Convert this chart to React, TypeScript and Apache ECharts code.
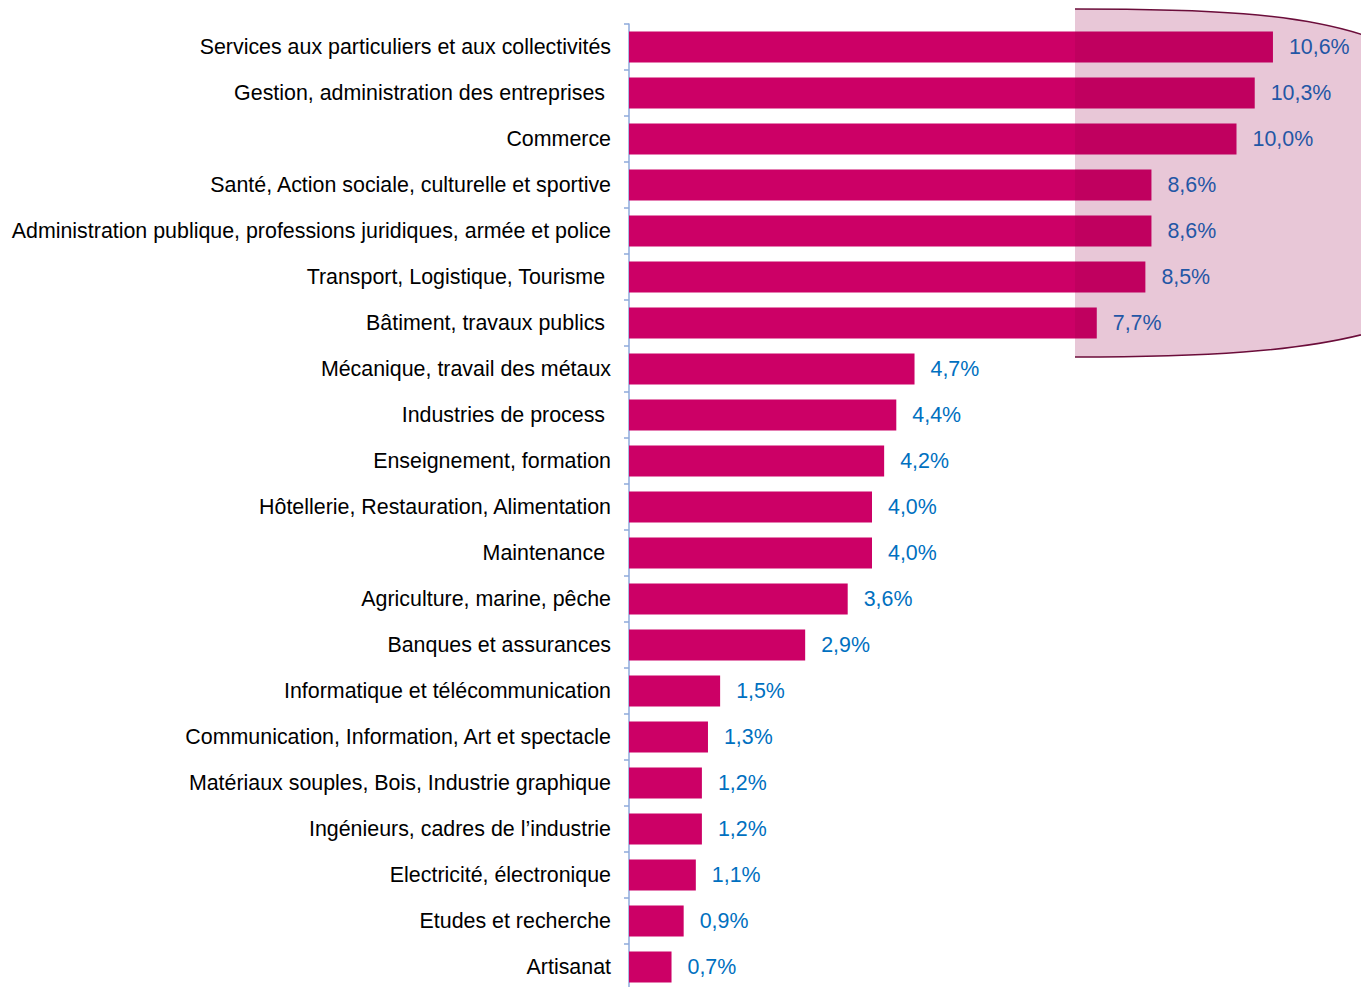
import React, { useEffect, useRef } from "react";
import * as echarts from "echarts";

const categories: string[] = [
  "Services aux particuliers et aux collectivités",
  "Gestion, administration des entreprises\u00a0",
  "Commerce",
  "Santé, Action sociale, culturelle et sportive",
  "Administration publique, professions juridiques, armée et police",
  "Transport, Logistique, Tourisme\u00a0",
  "Bâtiment, travaux publics\u00a0",
  "Mécanique, travail des métaux",
  "Industries de process\u00a0",
  "Enseignement, formation",
  "Hôtellerie, Restauration, Alimentation",
  "Maintenance\u00a0",
  "Agriculture, marine, pêche",
  "Banques et assurances",
  "Informatique et télécommunication",
  "Communication, Information, Art et spectacle",
  "Matériaux souples, Bois, Industrie graphique",
  "Ingénieurs, cadres de l’industrie",
  "Electricité, électronique",
  "Etudes et recherche",
  "Artisanat",
];

const values: number[] = [
  10.6, 10.3, 10.0, 8.6, 8.6, 8.5, 7.7, 4.7, 4.4, 4.2, 4.0, 4.0, 3.6, 2.9, 1.5,
  1.3, 1.2, 1.2, 1.1, 0.9, 0.7,
];

const FILL_D =
  "M1075 9 C1200 9 1300 12 1372 38 L1372 332 C1300 352 1200 357 1075 357 Z";
const STROKE_D =
  "M1075 9 C1200 9 1300 12 1372 38 M1075 357 C1200 357 1300 352 1372 332";

let registered = false;
function registerShapes() {
  if (registered) return;
  registered = true;
  echarts.graphic.registerShape(
    "hlFill",
    echarts.graphic.extendPath(FILL_D, {}) as any
  );
  echarts.graphic.registerShape(
    "hlStroke",
    echarts.graphic.extendPath(STROKE_D, {}) as any
  );
}

const FONT = "'Liberation Sans', Arial, sans-serif";

export default function App() {
  const ref = useRef<HTMLDivElement>(null);
  useEffect(() => {
    if (!ref.current) return;
    registerShapes();
    const chart = echarts.init(ref.current, undefined, { renderer: "svg" });
    chart.setOption({
      animation: false,
      backgroundColor: "#ffffff",
      grid: { left: 629, top: 24, width: 729, height: 966, containLabel: false },
      xAxis: { type: "value", min: 0, max: 12, show: false },
      yAxis: {
        type: "category",
        inverse: true,
        data: categories,
        axisLine: { show: true, lineStyle: { color: "#8eaadb", width: 1.5 } },
        axisTick: { show: true, length: 5, lineStyle: { color: "#8eaadb", width: 1.5 } },
        axisLabel: {
          margin: 18,
          color: "#000000",
          fontFamily: FONT,
          fontSize: 21.4,
        },
        splitLine: { show: false },
      },
      series: [
        {
          type: "bar",
          data: values,
          barWidth: 31,
          itemStyle: { color: "#cc0066" },
          label: {
            show: true,
            position: "right",
            distance: 16,
            color: "#0070c0",
            fontFamily: FONT,
            fontSize: 21.4,
            formatter: (p: any) => p.value.toFixed(1).replace(".", ",") + "%",
          },
        },
      ],
      graphic: [
        {
          type: "hlFill",
          z: 100,
          shape: {},
          style: { fill: "rgba(148,0,74,0.22)", stroke: "none" },
          silent: true,
        },
        {
          type: "hlStroke",
          z: 101,
          shape: {},
          style: { fill: "none", stroke: "#6b0d3a", lineWidth: 1.5 },
          silent: true,
        },
      ],
    });
    return () => chart.dispose();
  }, []);
  return (
    <div
      style={{
        position: "absolute",
        left: 0,
        top: 0,
        width: 1361,
        height: 987,
        overflow: "hidden",
      }}
    >
      <div ref={ref} style={{ width: 1361, height: 995 }} />
    </div>
  );
}
